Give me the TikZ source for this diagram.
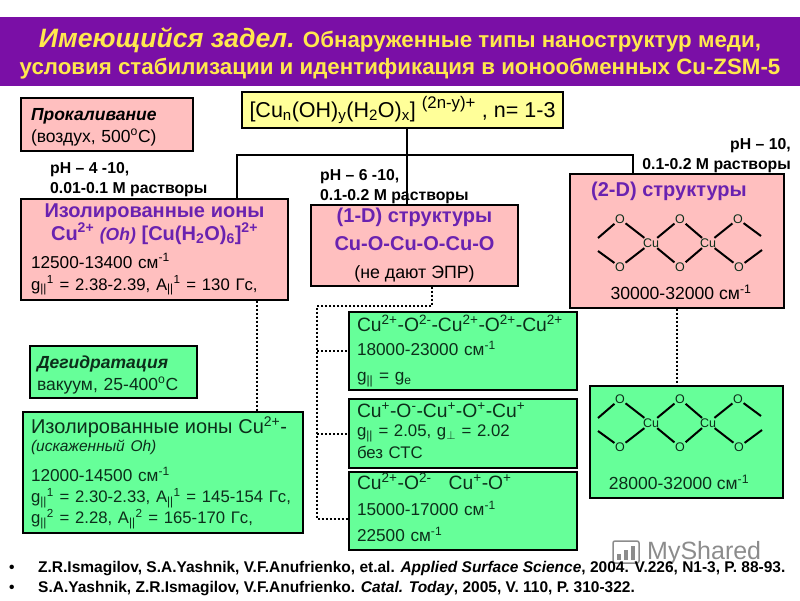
\documentclass[tikz,border=0pt]{standalone}
\usepackage{fontspec}
\setmainfont{Liberation Sans}
\definecolor{bandpurple}{HTML}{7A0FA6}
\definecolor{bandyellow}{HTML}{FFE84D}
\definecolor{boxpink}{HTML}{FFBFBF}
\definecolor{boxgreen}{HTML}{66FF99}
\definecolor{boxyellow}{HTML}{FFFF99}
\definecolor{headpurple}{HTML}{6A22B0}
\definecolor{inkgreen}{HTML}{0C2E1A}
\definecolor{markgrey}{HTML}{8C8C8C}
\newcommand{\sups}[1]{\textsuperscript{#1}}
\newcommand{\subs}[1]{\textsubscript{#1}}
\newcommand{\gpar}{g\subs{||}}
\newcommand{\apar}{A\subs{||}}
\newcommand{\headface}{\bfseries\fontsize{20}{28}\selectfont\color{headpurple}}
\tikzset{
  pinkbox/.style={draw=black,line width=1.2pt,fill=boxpink,inner xsep=8pt,inner ysep=2pt,align=left},
  greenbox/.style={draw=black,line width=1.2pt,fill=boxgreen,text=inkgreen,inner xsep=8pt,inner ysep=0pt,align=left},
  phlabel/.style={font=\bfseries\fontsize{15.8}{20}\selectfont,inner sep=0pt,align=left},
  reflabel/.style={font=\bfseries\fontsize{15.5}{16}\selectfont,anchor=west,inner sep=0pt},
  dotline/.style={line width=2pt,dash pattern=on 2pt off 2pt},
  bondline/.style={line width=2pt},
  chainatom/.style={font=\fontsize{12.5}{13}\selectfont,inner sep=0.5pt,text=inkgreen},
  cuchain/.pic={
    \node[chainatom] (cu1) at (0,0) {Cu};
    \node[chainatom] (cu2) at (57,0) {Cu};
    \node[chainatom] (ot1) at (-31,-24) {O};
    \node[chainatom] (ot2) at (29,-24) {O};
    \node[chainatom] (ot3) at (87,-24) {O};
    \node[chainatom] (ob1) at (-31,24) {O};
    \node[chainatom] (ob2) at (29,24) {O};
    \node[chainatom] (ob3) at (88,24) {O};
    \coordinate (lt) at (-53,-5);
    \coordinate (lb) at (-53,8);
    \coordinate (rt) at (110,-7);
    \coordinate (rb) at (111,7);
    \draw[bondline] (lt) -- (ot1);
    \draw[bondline] (lb) -- (ob1);
    \draw[bondline] (ot1) -- (cu1);
    \draw[bondline] (ob1) -- (cu1);
    \draw[bondline] (cu1) -- (ot2);
    \draw[bondline] (cu1) -- (ob2);
    \draw[bondline] (ot2) -- (cu2);
    \draw[bondline] (ob2) -- (cu2);
    \draw[bondline] (cu2) -- (ot3);
    \draw[bondline] (cu2) -- (ob3);
    \draw[bondline] (ot3) -- (rt);
    \draw[bondline] (ob3) -- (rb);
  }
}
\begin{document}
\begin{tikzpicture}[x=1pt,y=-1pt]
\useasboundingbox (0,0) rectangle (800,600);
% title
\node[fill=bandpurple,minimum width=800pt,minimum height=69pt,inner sep=0pt] (band) at (400,51.5) {};
\node[text=bandyellow,inner sep=0pt,align=center,font=\bfseries\fontsize{22.3}{27}\selectfont] (bandtext) at (400,53.5)
  {{\itshape\fontsize{26.6}{27}\selectfont Имеющийся задел.} Обнаруженные типы наноструктур меди,\\условия стабилизации и идентификация в ионообменных Cu-ZSM-5};
% top row
\node[draw=black,line width=1.2pt,fill=boxyellow,minimum width=321pt,minimum height=36pt,inner sep=0pt,font=\fontsize{21.5}{26}\selectfont] (formula) at (402.5,110)
  {[Cu\subs{n}(OH)\subs{y}(H\subs{2}O)\subs{x}] {\fontsize{24}{26}\selectfont\sups{(2n-y)+}} , n= 1-3};
\node[pinkbox,inner xsep=10pt,text width=152pt,minimum height=53pt,font=\fontsize{17.5}{22}\selectfont] (calcine) at (107,124.5)
  {\rule{0pt}{17pt}{\bfseries\itshape Прокаливание}\\(воздух, 500\sups{o}C)};
\node[phlabel,anchor=west] (phfour) at (50,179.5) {pH – 4 -10,\\0.01-0.1 M растворы};
\node[phlabel,anchor=west] (phsix) at (320,187) {pH – 6 -10,\\0.1-0.2 M растворы};
\node[phlabel,anchor=east,align=right] (phten) at (791,156) {pH – 10,\\0.1-0.2 M растворы};
% structure boxes
\node[pinkbox,inner xsep=10pt,text width=247pt,minimum height=101pt,font=\fontsize{17.2}{22}\selectfont] (ions) at (154.5,249.5)
  {{\centering\headface\fontsize{20}{20}\selectfont Изолированные ионы\\Cu\sups{2+} {\itshape\fontsize{17.5}{20}\selectfont (Oh)} [Cu(H\subs{2}O)\subs{6}]\sups{2+}\par}
  \vspace{6pt}12500-13400 см\sups{-1}\\{\fontsize{16.7}{22}\selectfont\gpar\sups{1} = 2.38-2.39, \apar\sups{1} = 130 Гс,}};
\node[pinkbox,minimum width=207pt,minimum height=81pt,inner xsep=0pt,align=center,font=\fontsize{17.8}{28}\selectfont] (oned) at (414.5,245.5)
  {{\headface(1-D) структуры}\\{\headface Cu-O-Cu-O-Cu-O}\\(не дают ЭПР)};
\node[pinkbox,minimum width=214pt,minimum height=134pt] (twod) at (677,241) {};
\node[anchor=west,inner sep=0pt,font=\headface] (twodhead) at (591,191) {(2-D) структуры};
\pic (pinkchain) at (651,243) {cuchain};
\node[inner sep=0pt,font=\fontsize{17.6}{19}\selectfont] (twodrange) at (681,292) {30000-32000 см\sups{-1}};
\node[greenbox,inner xsep=7pt,text width=153pt,minimum height=52pt,font=\fontsize{17.5}{22}\selectfont] (dehyd) at (113.5,372)
  {\rule{0pt}{18pt}{\bfseries\itshape Дегидратация}\\вакуум, 25-400\sups{o}C};
\node[greenbox,text width=264pt,minimum height=121pt,font=\fontsize{17.2}{21}\selectfont] (ionstwo) at (163,472.5)
  {{\fontsize{20}{20}\selectfont Изолированные ионы Cu\sups{2+}-}\\[-3pt]{\itshape\fontsize{15.5}{16}\selectfont (искаженный Oh)}\\[9pt]12000-14500 см\sups{-1}\\{\fontsize{16.7}{21}\selectfont\gpar\sups{1} = 2.30-2.33, \apar\sups{1} = 145-154 Гс,}\\{\fontsize{16.7}{21}\selectfont\gpar\sups{2} = 2.28, \apar\sups{2} = 165-170 Гс,}};
\node[greenbox,text width=212pt,minimum height=78pt,font=\fontsize{17.2}{26}\selectfont] (chainone) at (463,351)
  {{\fontsize{19.3}{22}\selectfont Cu\sups{2+}-O\sups{2-}-Cu\sups{2+}-O\sups{2+}-Cu\sups{2+}}\\[-2pt]18000-23000 см\sups{-1}\\\gpar{} = g\subs{e}};
\node[greenbox,text width=212pt,minimum height=69pt,font=\fontsize{16.8}{22}\selectfont] (chaintwo) at (463,433.5)
  {{\fontsize{19.3}{20}\selectfont Cu\sups{+}-O\sups{-}-Cu\sups{+}-O\sups{+}-Cu\sups{+}}\\[-3pt]\gpar{} = 2.05, g\subs{$\perp$} = 2.02\\без СТС\rule[-6pt]{0pt}{6pt}};
\node[greenbox,text width=212pt,minimum height=78pt,font=\fontsize{17.2}{26}\selectfont] (chainthree) at (463,511)
  {{\fontsize{19.3}{22}\selectfont Cu\sups{2+}-O\sups{2-}\ \ \ Cu\sups{+}-O\sups{+}}\\15000-17000 см\sups{-1}\\22500 см\sups{-1}\rule[-7pt]{0pt}{7pt}};
\node[greenbox,minimum width=193pt,minimum height=112pt] (greenright) at (686.5,442) {};
\pic (greenchain) at (651,423) {cuchain};
\node[inner sep=0pt,text=inkgreen,font=\fontsize{17.5}{19}\selectfont] (greenrange) at (679,482) {28000-32000 см\sups{-1}};
% solid connectors
\coordinate (trunk) at (407,155);
\coordinate (busl) at (237,155);
\coordinate (busr) at (633,155);
\draw[line width=1.2pt] (trunk |- formula.south) -- (trunk |- oned.north);
\draw[line width=1.2pt] (busl |- ions.north) -- (busl) -- (busr) -- (busr |- twod.north);
% dotted connectors
\coordinate (dropions) at (257,300);
\coordinate (droptwod) at (677,300);
\coordinate (railtop) at (432,306);
\coordinate (rail) at (317,306);
\coordinate (railend) at (317,519);
\draw[dotline] (dropions |- ions.south) -- (dropions |- ionstwo.north);
\draw[dotline] (droptwod |- twod.south) -- (droptwod |- greenright.north);
\draw[dotline] (railtop |- oned.south) -- (railtop) -- (rail) -- (railend) -- (railend -| chainthree.west);
\draw[dotline] (rail |- chainone.west) -- (chainone.west);
\draw[dotline] (rail |- chaintwo.west) -- (chaintwo.west);
% watermark
\node[draw=markgrey,line width=1.5pt,rounded corners=2pt,minimum width=26pt,minimum height=22pt] (markbox) at (626,552) {};
\foreach \barx/\barh in {619/6,626/10,633/14}
  \fill[markgrey] (\barx-2,560) rectangle (\barx+2,560-\barh);
\node[text=markgrey,anchor=west,inner sep=0pt,font=\fontsize{25}{28}\selectfont] (markname) at (647,553) {MyShared};
% references
\node[reflabel] (bulone) at (9,568.5) {•};
\node[reflabel] (refone) at (38,568.5) {Z.R.Ismagilov, S.A.Yashnik, V.F.Anufrienko, et.al. {\itshape Applied Surface Science}, 2004. V.226, N1-3, P. 88-93.};
\node[reflabel] (bultwo) at (9,588.5) {•};
\node[reflabel] (reftwo) at (38,588.5) {S.A.Yashnik, Z.R.Ismagilov, V.F.Anufrienko. {\itshape Catal. Today}, 2005, V. 110, P. 310-322.};
\end{tikzpicture}
\end{document}
